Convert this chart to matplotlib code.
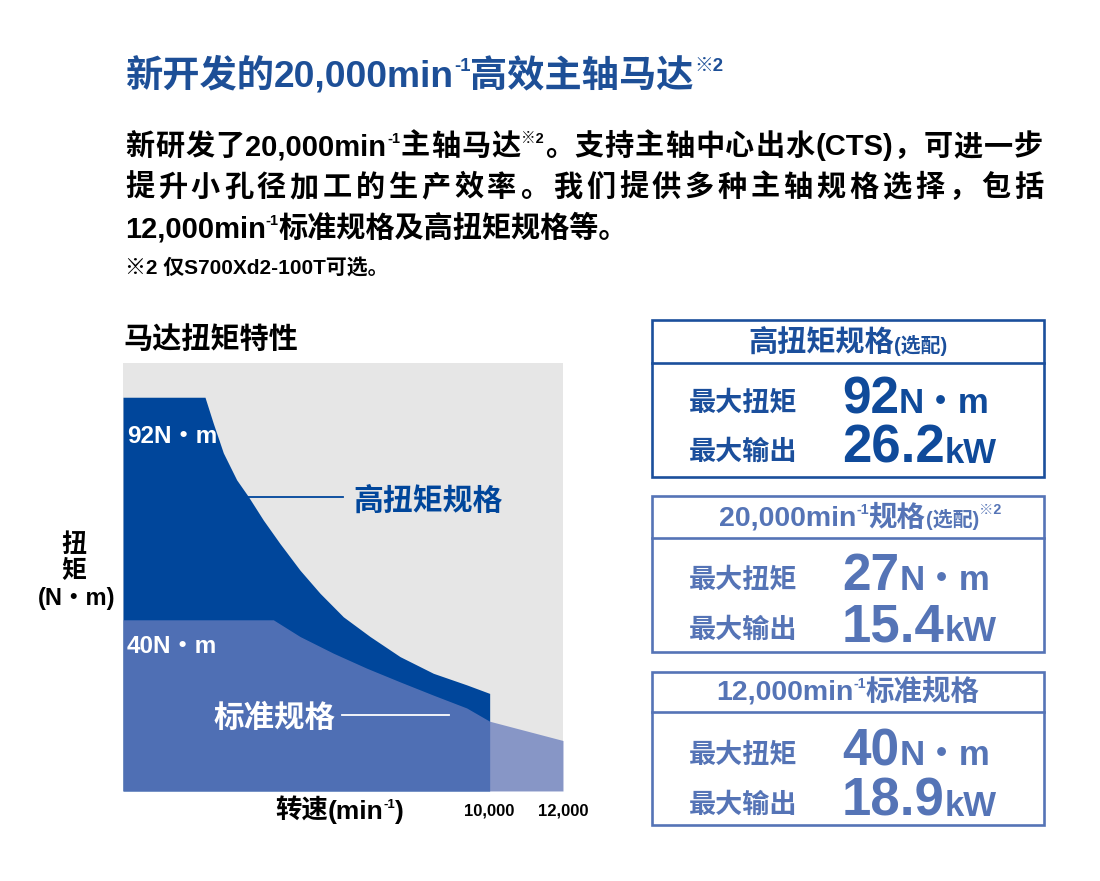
import matplotlib
matplotlib.use('Agg')
import matplotlib.pyplot as plt
from matplotlib.patches import Rectangle
from matplotlib.lines import Line2D

W, H = 1100, 881
FAM = ['Liberation Sans', 'Noto Sans CJK SC']
plt.rcParams['font.family'] = FAM
plt.rcParams['font.weight'] = 'bold'

DARK = '#00469b'
LIGHT = '#697dbd'
BOX1 = '#1b4f9c'
BOX2 = '#5574b6'
TITLE_BLUE = '#1d4f97'

# torque curves (rpm, N·m)
high_rpm = [0, 2236, 2463, 2736, 3100, 3418, 3827, 4282, 4827, 5373, 6009,
            6736, 7555, 8464, 9373, 10000]
high_torque = [92, 92, 85.9, 79.0, 72.7, 68.8, 63.3, 57.8, 51.6, 46.2, 40.7,
               36.1, 31.4, 27.5, 24.8, 22.8]
std_rpm = [0, 4100, 4827, 5736, 6645, 7555, 8464, 9373, 10000, 12000]
std_torque = [40, 40, 36.1, 32.2, 28.7, 25.5, 22.4, 19.4, 16.3, 11.8]
tick_rpm = [10000, 12000]
tick_labels = ['10,000', '12,000']

# spec boxes
box_titles = ['高扭矩规格', '20,000min', '12,000min']
box_torque = ['92', '27', '40']
box_power = ['26.2', '15.4', '18.9']

fig = plt.figure(figsize=(11, 8.81), dpi=100)
fig.patch.set_facecolor('white')
R = fig.canvas.get_renderer()


def fx(x):
    return x / W


def fy(y):
    return 1 - y / H


def runs(x, y, parts, color, size, ha='left', width=None):
    # parts: str or (str, scale, rise in em of main size)
    items = []
    for p in parts:
        if isinstance(p, str):
            p = (p, 1.0, 0.0)
        s, k, rise = p
        t = fig.text(0, 0, s, fontsize=size * k, color=color, va='baseline', ha='left')
        items.append((t, t.get_window_extent(R).width, rise * size * 100 / 72))
    total = sum(w for _, w, _ in items)
    gap = 0
    if width is not None and len(items) > 1:
        gap = (width - total) / (len(items) - 1)
        total = width
    x0 = x - total / 2 if ha == 'center' else x
    for t, w, r in items:
        t.set_position((fx(x0), fy(y - r)))
        x0 += w + gap


def sup(s):
    return (s, 0.5, 0.42)


# ---- header texts ----
runs(125, 87, ['新开发的', '20,000min', sup('-1'), '高效主轴马达', sup('※2')], TITLE_BLUE, 26.8)

line1 = list('新研发了') + ['20,000min', sup('-1')] + list('主轴马达') + [sup('※2')] + \
    list('。支持主轴中心出水') + ['(CTS)'] + list('，可进一步')
runs(125, 155, line1, 'black', 21, width=918)
runs(125, 196, list('提升小孔径加工的生产效率。我们提供多种主轴规格选择，包括'), 'black', 21, width=918)
runs(125, 237, ['12,000min', sup('-1'), '标准规格及高扭矩规格等。'], 'black', 21)
runs(125, 275, ['※2 仅S700Xd2-100T可选。'], 'black', 15)

# ---- torque chart ----
ax = fig.add_axes([fx(123), fy(791), 440 / W, 428 / H])
ax.set_facecolor('#e6e6e6')
ax.fill_between(high_rpm, high_torque, color=DARK, lw=0)
ax.fill_between(std_rpm, std_torque, color=LIGHT, alpha=0.76, lw=0)
ax.set_xlim(0, 12000)
ax.set_ylim(0, 100)
for s in ax.spines.values():
    s.set_visible(False)
ax.set_yticks([])
ax.set_xticks(tick_rpm, tick_labels)
ax.tick_params(axis='x', length=0, pad=9, labelsize=12)

runs(123, 348, ['马达扭矩特性'], 'black', 21)
runs(127, 443, ['92N・m'], 'white', 17.5)
runs(127, 653, ['40N・m'], 'white', 17.5)
runs(353, 510, ['高扭矩规格'], DARK, 21.5)
runs(213, 727, ['标准规格'], 'white', 22)
fig.add_artist(Line2D([fx(248), fx(343)], [fy(497), fy(497)], color=DARK, lw=1.3))
fig.add_artist(Line2D([fx(342), fx(449)], [fy(715), fy(715)], color='white', lw=1.3))

runs(275, 819, ['转速', '(min', sup('-1'), ')'], 'black', 19)
fig.text(fx(74), fy(545), '扭', fontsize=18, ha='center', va='center', color='black')
fig.text(fx(74), fy(571), '矩', fontsize=18, ha='center', va='center', color='black')
fig.text(fx(77), fy(598), '(N・m)', fontsize=17, ha='center', va='center', color='black')

# ---- spec boxes ----
boxes = [(320, 363, 477, BOX1), (496, 538, 652, BOX2), (672, 712, 825, BOX2)]
for top, mid, bot, c in boxes:
    fig.add_artist(Rectangle((fx(652), fy(bot)), 392 / W, (bot - top) / H,
                             fill=False, ec=c, lw=1.9, transform=fig.transFigure))
    fig.add_artist(Line2D([fx(652), fx(1044)], [fy(mid), fy(mid)], color=c, lw=1.9))

runs(848, 352, [box_titles[0], ('(选配)', 0.68, 0)], BOX1, 21, ha='center')
runs(860, 526, [box_titles[1], sup('-1'), '规格', ('(选配)', 0.7, 0), sup('※2')], BOX2, 20.5, ha='center')
runs(848, 700, [box_titles[2], sup('-1'), '标准规格'], BOX2, 20.5, ha='center')

rows = [(411, 460, BOX1, '#0f4a9a'), (588, 638, BOX2, BOX2), (763, 813, BOX2, BOX2)]
for i, (yt, yp, c, vc) in enumerate(rows):
    runs(689, yt, ['最大扭矩'], c, 19.5)
    runs(689, yp, ['最大输出'], c, 19.5)
    runs(842, yt + 2, [box_torque[i], ('N・m', 25 / 37, 0)], vc, 37)
    runs(842, yp + 3, [box_power[i], ('kW', 25 / 38, 0)], vc, 38)

fig.savefig('out.png', dpi=100, facecolor='white')
